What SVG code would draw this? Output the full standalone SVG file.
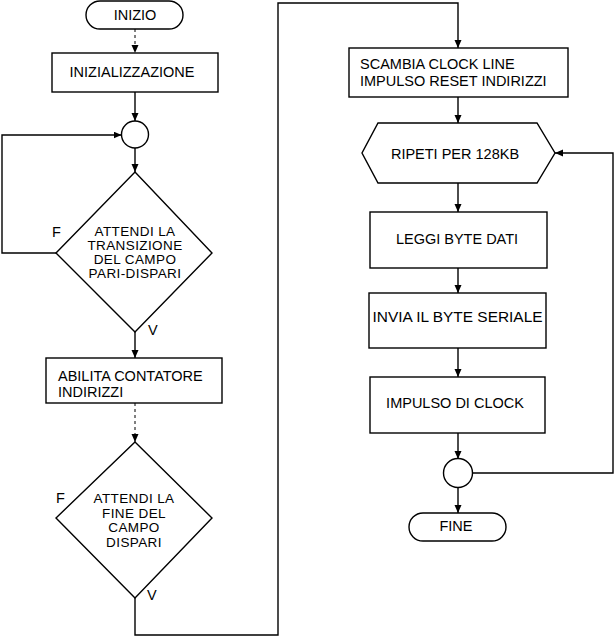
<svg xmlns="http://www.w3.org/2000/svg" width="616" height="637" viewBox="0 0 616 637">
  <defs>
    <marker id="arrow" markerUnits="userSpaceOnUse" markerWidth="9" markerHeight="8" refX="8" refY="3.5" orient="auto">
      <path d="M0,0 L8,3.5 L0,7 z" fill="#000"/>
    </marker>
    <style>
      .shape { fill: #fff; stroke: #000; stroke-width: 1.4; }
      .conn { fill: none; stroke: #000; stroke-width: 1.4; marker-end: url(#arrow); }
      .dash { stroke-width: 1; stroke-dasharray: 3 3; }
      text { font-family: "Liberation Sans", Arial, Helvetica, sans-serif; font-size: 14.5px; fill: #000; }
      .mid { text-anchor: middle; }
      .dec { font-size: 13.5px; letter-spacing: 0.4px; }
    </style>
  </defs>
  <rect width="616" height="637" fill="#fff"/>

  <!-- connectors -->
  <g id="connectors">
    <path class="conn dash" d="M135,29 V53"/>
    <path class="conn" d="M135,92 V121"/>
    <path class="conn" d="M135,148 V172"/>
    <path class="conn" d="M56,253 H2 V135 H121.5"/>
    <path class="conn" d="M135,332 V358"/>
    <path class="conn dash" d="M135,403 V442"/>
    <path class="conn" d="M135,598 V635 H278 V3 H458 V48"/>
    <path class="conn" d="M458,97 V123"/>
    <path class="conn" d="M458,183 V212"/>
    <path class="conn" d="M458,268 V293"/>
    <path class="conn" d="M458,348 V377"/>
    <path class="conn" d="M458,433 V459"/>
    <path class="conn" d="M458,487 V513"/>
    <path class="conn" d="M472.5,473 H613 V153 H555"/>
  </g>

  <!-- left column -->
  <g id="start">
    <rect class="shape" x="86" y="1" width="97" height="28" rx="14" ry="14"/>
    <text class="mid" x="135" y="20">INIZIO</text>
  </g>
  <g id="init">
    <rect class="shape" x="52" y="53" width="166" height="39"/>
    <text class="mid" x="132" y="77">INIZIALIZZAZIONE</text>
  </g>
  <g id="join1">
    <circle class="shape" cx="135" cy="134.5" r="13.5"/>
  </g>
  <g id="wait-transition">
    <polygon class="shape" points="135,172 212,253 135,332 56,253"/>
    <text class="mid dec" x="135" y="236">ATTENDI LA</text>
    <text class="mid dec" x="135" y="250">TRANSIZIONE</text>
    <text class="mid dec" x="135" y="264">DEL CAMPO</text>
    <text class="mid dec" x="135" y="278">PARI-DISPARI</text>
    <text x="52" y="237">F</text>
    <text x="148" y="335">V</text>
  </g>
  <g id="enable-counter">
    <rect class="shape" x="46" y="358" width="176" height="45"/>
    <text x="58" y="381">ABILITA CONTATORE</text>
    <text x="58" y="397">INDIRIZZI</text>
  </g>
  <g id="wait-end">
    <polygon class="shape" points="135,442 212,518 135,598 56,518"/>
    <text class="mid dec" x="134" y="503">ATTENDI LA</text>
    <text class="mid dec" x="134" y="517.5">FINE DEL</text>
    <text class="mid dec" x="134" y="532">CAMPO</text>
    <text class="mid dec" x="134" y="546.5">DISPARI</text>
    <text x="56" y="503">F</text>
    <text x="147" y="600">V</text>
  </g>

  <!-- right column -->
  <g id="swap-clock">
    <rect class="shape" x="349" y="48" width="219" height="49"/>
    <text x="360" y="69">SCAMBIA CLOCK LINE</text>
    <text x="360" y="86">IMPULSO RESET INDIRIZZI</text>
  </g>
  <g id="repeat">
    <polygon class="shape" points="378,123 537,123 555,153 537,183 378,183 362,153"/>
    <text class="mid" x="455" y="159">RIPETI PER 128KB</text>
  </g>
  <g id="read-byte">
    <rect class="shape" x="370" y="212" width="177" height="56"/>
    <text class="mid" x="457" y="244">LEGGI BYTE DATI</text>
  </g>
  <g id="send-byte">
    <rect class="shape" x="369" y="293" width="177" height="55"/>
    <text class="mid" x="457.5" y="322" textLength="170" lengthAdjust="spacingAndGlyphs">INVIA IL BYTE SERIALE</text>
  </g>
  <g id="clock-pulse">
    <rect class="shape" x="370" y="377" width="175" height="56"/>
    <text class="mid" x="455" y="408">IMPULSO DI CLOCK</text>
  </g>
  <g id="join2">
    <circle class="shape" cx="458" cy="473" r="14.5"/>
  </g>
  <g id="end">
    <rect class="shape" x="409" y="513" width="97" height="28" rx="14" ry="14"/>
    <text class="mid" x="456" y="531">FINE</text>
  </g>
</svg>
